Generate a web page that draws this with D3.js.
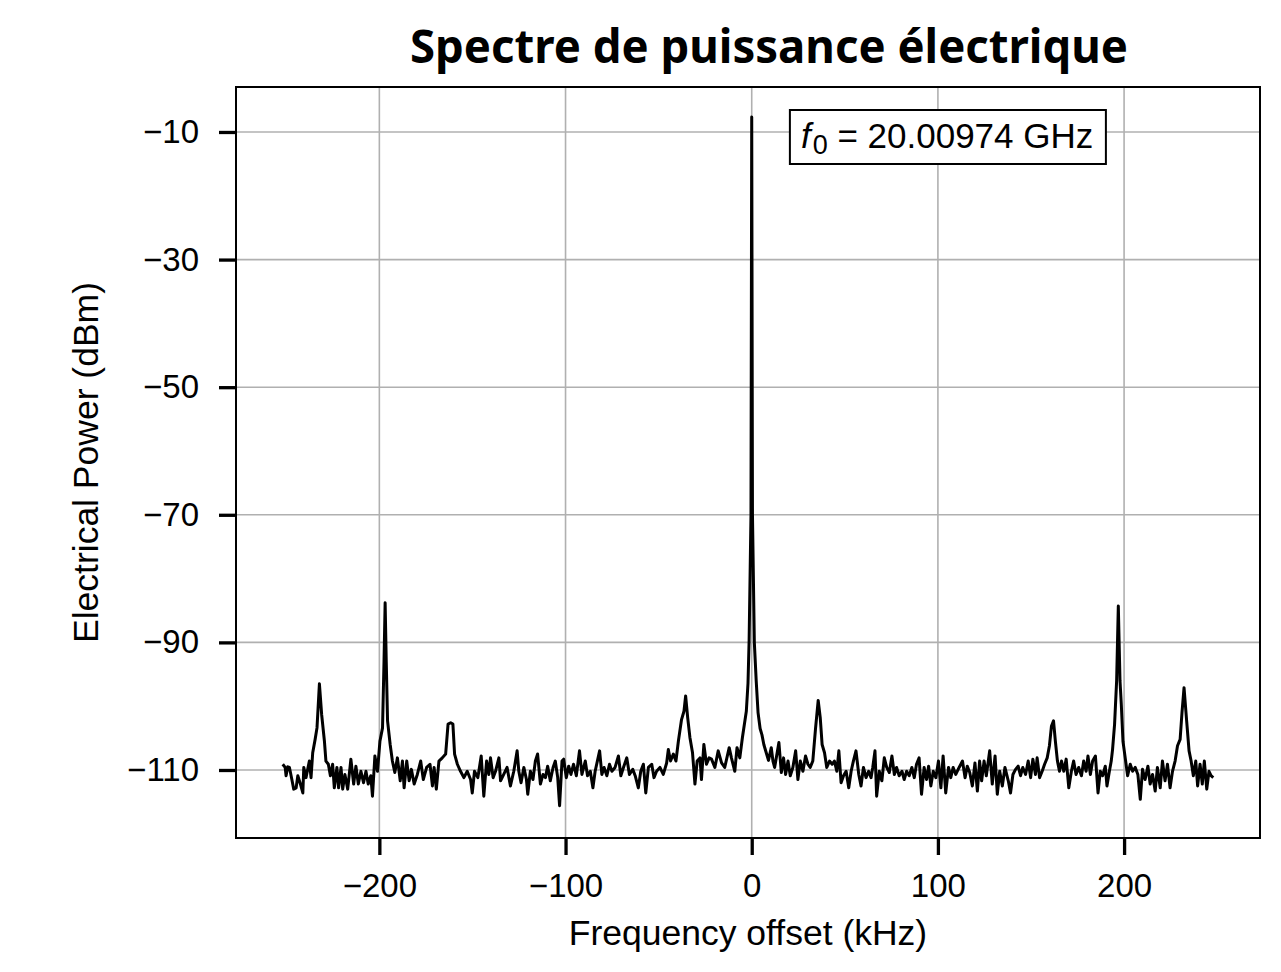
<!DOCTYPE html>
<html>
<head>
<meta charset="utf-8">
<script src="https://cdn.jsdelivr.net/npm/d3@7"></script>
<style>
  body { margin: 0; background: #fff; }
  svg { display: block; }
</style>
</head>
<body>
<script>

// spectrum, [frequency offset kHz, power dBm]
let leftBand = [
  [-251.9,-109.1],[-250.6,-109.6],[-250.1,-110.9],[-249.2,-109.5],[-248.3,-109.6],[-247.0,-111.5],
  [-246.0,-113.0],[-244.7,-112.8],[-243.8,-110.9],[-242.4,-112.2],[-241.1,-113.6],[-240.6,-109.6],
  [-239.4,-111.2],[-237.6,-108.6],[-236.7,-111.2],[-235.8,-107.3],[-234.5,-105.2],[-233.5,-103.4],
  [-232.2,-96.5],[-231.0,-101.3],[-229.5,-105.5],[-228.7,-108.6],[-227.4,-109.1],[-226.3,-110.9],
  [-225.1,-109.1],[-224.2,-112.8],[-222.8,-109.6],[-221.9,-112.8],[-220.6,-109.6],[-219.7,-113.0],
  [-218.5,-110.7],[-217.0,-113.0],[-215.3,-108.3],[-213.8,-112.2],[-212.6,-109.4],[-211.3,-112.2],
  [-209.9,-110.2],[-208.5,-112.0],[-207.2,-110.2],[-206.0,-112.2],[-204.6,-110.9],[-203.7,-114.1],
  [-202.4,-107.8],[-201.0,-110.2],[-199.7,-105.5],[-198.3,-103.4],[-197.5,-93.0],[-196.9,-83.8],
  [-196.3,-93.0],[-195.6,-102.3],[-194.2,-106.0],[-193.0,-108.6],[-191.7,-110.4],[-190.3,-108.1],
  [-188.8,-111.7],[-187.6,-108.6],[-186.7,-112.8],[-185.3,-108.6],[-184.0,-111.7],[-182.8,-109.9],
  [-181.3,-112.2],[-179.6,-110.7],[-177.8,-108.6],[-176.4,-111.5],[-174.6,-109.6],[-172.8,-109.1],
  [-171.5,-112.5],[-170.6,-109.6],[-169.4,-113.0],[-168.0,-108.6],[-166.2,-108.1],[-164.4,-107.5],
  [-163.1,-102.8],[-161.7,-102.6],[-160.5,-102.8],[-159.6,-107.5],[-158.1,-109.1],[-156.4,-110.2],
  [-154.6,-111.2],[-152.8,-110.2],[-151.0,-111.5],[-150.1,-113.6],[-148.9,-110.2],[-147.1,-111.2],
  [-145.3,-107.8],[-143.9,-114.1],[-142.4,-108.6],[-141.2,-110.7],[-140.3,-108.1],[-138.9,-111.2],
  [-137.6,-110.2],[-135.8,-108.1],[-134.9,-111.7],[-133.2,-110.7],[-131.4,-109.6],[-129.6,-112.5],
  [-127.8,-110.2],[-126.0,-107.0],[-125.1,-110.2],[-123.9,-112.0],[-122.4,-109.6],[-121.0,-111.5],
  [-120.3,-113.8],[-118.9,-110.2],[-117.5,-111.5],[-116.2,-108.6],[-115.0,-107.5],[-113.5,-112.2],
  [-112.1,-110.7],[-110.8,-111.2],[-109.6,-109.4],[-108.2,-111.7],[-106.7,-109.6],[-105.5,-108.6],
  [-104.2,-111.2],[-103.2,-115.6],[-101.9,-108.6],[-101.0,-108.3],[-99.6,-111.2],[-98.3,-109.4],
  [-97.1,-110.7],[-95.7,-109.1],[-94.2,-110.9],[-92.5,-107.0],[-91.2,-110.7],[-89.4,-108.6],
  [-88.2,-110.9],[-86.7,-110.2],[-85.3,-112.8],[-84.1,-110.2],[-81.7,-107.0],[-80.5,-110.7],
  [-79.3,-109.6],[-77.8,-110.9],[-76.4,-109.1],[-75.1,-110.2],[-73.4,-109.6],[-71.6,-107.8],
  [-70.3,-110.9],[-68.9,-109.6],[-67.1,-108.1],[-65.7,-110.7],[-63.9,-109.9],[-62.6,-110.9],
  [-60.9,-112.8],[-59.6,-110.2],[-58.2,-109.1],[-56.9,-113.6],[-55.5,-109.6],[-53.7,-109.1],
  [-52.5,-111.2],[-51.1,-110.2],[-49.3,-109.6],[-47.5,-110.7],[-45.7,-108.9],[-44.8,-106.8],
  [-43.6,-108.6],[-42.1,-107.5],[-40.7,-108.6]
];

let centreBand = [
  [-39.4,-105.5],[-37.7,-102.1],[-36.4,-100.8],[-35.5,-98.4],[-34.4,-101.8],[-33.2,-104.9],
  [-31.8,-107.3],[-30.5,-112.2],[-29.3,-108.6],[-27.8,-108.1],[-27.0,-111.5],[-25.7,-106.0],
  [-24.3,-109.1],[-22.9,-108.1],[-21.6,-108.3],[-19.8,-109.6],[-18.0,-107.0],[-16.2,-108.9],
  [-14.5,-109.6],[-12.1,-106.5],[-10.9,-108.1],[-9.1,-110.2],[-7.9,-106.5],[-6.4,-108.1],
  [-5.0,-104.9],[-2.9,-100.8],[-2.0,-96.4],[-1.4,-89.7],[-0.4,-70.0],[0.0,-7.65],
  [0.4,-70.0],[1.4,-90.0],[2.4,-96.0],[3.4,-101.0],[4.5,-103.5],[5.5,-104.5],
  [6.5,-106.0],[8.0,-107.5],[9.0,-108.5],[10.5,-106.5],[11.4,-108.6],[12.3,-109.6],
  [13.2,-108.1],[14.6,-105.7],[15.9,-110.4],[17.1,-108.1],[18.2,-110.7],[19.5,-108.6],
  [20.7,-110.9],[22.1,-109.6],[23.6,-107.0],[24.8,-111.5],[26.1,-108.6],[27.5,-110.2],
  [28.9,-107.8],[30.2,-109.1],[31.4,-109.6],[32.8,-108.6],[34.3,-103.4],[35.7,-99.1],
  [36.8,-101.8],[37.8,-106.0],[39.1,-107.3],[40.3,-109.6]
];

let rightBand = [
  [41.8,-108.6],[43.2,-109.1],[44.4,-108.6],[45.7,-110.2],[46.8,-107.0],[48.0,-112.0],
  [49.3,-110.9],[50.7,-110.2],[52.1,-112.8],[53.4,-110.2],[54.6,-108.6],[56.0,-107.0],
  [57.5,-110.7],[58.7,-112.5],[60.0,-109.6],[61.4,-111.2],[62.8,-110.2],[64.1,-111.2],
  [65.0,-109.6],[66.2,-107.0],[67.1,-114.1],[68.5,-110.2],[69.9,-111.7],[71.2,-108.1],
  [72.5,-109.6],[73.9,-110.4],[75.3,-107.8],[76.6,-110.7],[77.8,-109.6],[79.2,-110.9],
  [80.7,-110.2],[81.9,-111.5],[83.2,-110.2],[84.6,-110.9],[86.0,-109.6],[87.3,-111.2],
  [88.5,-109.1],[89.9,-108.1],[91.2,-113.8],[92.6,-109.6],[93.9,-111.5],[95.0,-109.4],
  [96.2,-112.5],[97.5,-110.2],[98.9,-111.2],[100.3,-108.6],[101.6,-112.8],[102.8,-107.8],
  [104.2,-113.6],[105.7,-109.6],[106.9,-111.2],[108.2,-109.6],[109.6,-110.7],[111.4,-109.6],
  [113.2,-108.6],[114.6,-111.2],[115.8,-109.4],[117.1,-110.4],[118.5,-112.5],[119.9,-108.9],
  [121.2,-113.3],[122.4,-108.6],[123.5,-111.7],[124.8,-108.6],[126.0,-110.9],[127.8,-107.0],
  [129.2,-112.2],[130.7,-107.8],[131.9,-113.8],[133.2,-110.2],[134.6,-112.5],[136.0,-109.6],
  [137.8,-111.7],[139.0,-113.6],[140.3,-110.7],[141.7,-109.9],[143.1,-109.4],[144.4,-110.9],
  [145.6,-109.6],[147.1,-110.7],[148.5,-108.6],[149.8,-111.2],[151.0,-108.3],[152.4,-110.7],
  [153.3,-108.1],[154.6,-111.2],[156.0,-110.2],[157.3,-109.1],[158.7,-108.1],[159.9,-106.2],
  [161.0,-103.1],[162.1,-102.3],[163.1,-105.5],[164.2,-108.6],[165.3,-110.2],[166.4,-108.6],
  [167.6,-110.2],[168.9,-108.3],[170.3,-112.8],[171.7,-110.2],[172.9,-108.6],[174.2,-110.7],
  [175.6,-109.6],[177.1,-110.9],[178.3,-108.6],[179.6,-110.2],[180.6,-107.8],[181.9,-110.7],
  [183.1,-108.6],[184.6,-107.8],[186.0,-113.6],[187.2,-110.2],[188.5,-110.9],[189.9,-109.4],
  [190.8,-112.5],[192.1,-110.2],[193.1,-108.6],[193.8,-106.8],[194.9,-102.8],[196.0,-96.0],
  [196.9,-84.3],[197.8,-96.0],[198.5,-99.7],[199.4,-105.5],[200.6,-108.1],[201.9,-110.9],
  [203.3,-109.1],[204.6,-110.2],[206.0,-109.6],[207.4,-110.7],[208.7,-114.6],[209.9,-109.9],
  [211.3,-111.5],[212.8,-109.4],[214.0,-112.2],[215.3,-110.7],[216.7,-113.3],[217.9,-109.6],
  [219.4,-112.8],[220.6,-108.6],[222.0,-111.7],[223.3,-109.1],[224.7,-112.8],[226.0,-110.2],
  [227.4,-108.6],[228.7,-106.2],[230.1,-105.2],[231.1,-101.0],[232.2,-97.1],[233.6,-102.3],
  [234.9,-107.0],[236.0,-108.6],[237.2,-110.9],[238.5,-108.6],[239.5,-112.5],[240.8,-109.1],
  [242.0,-112.2],[243.1,-108.6],[244.4,-113.0],[245.6,-110.2],[246.7,-110.9],[247.9,-111.2]
];

let xTicks = [-200, -100, 0, 100, 200];
let yTicks = [-110, -90, -70, -50, -30, -10];
let xDomain = [-277, 273];
let yDomain = [-120.66, -2.95];

let titleText = 'Spectre de puissance électrique';
let xLabel = 'Frequency offset (kHz)';
let yLabel = 'Electrical Power (dBm)';
let carrierText = ' = 20.00974 GHz';

function go() {

  let totalWidth  = 1281;
  let totalHeight = 972;
  let margin      = { top: 87, right: 21, bottom: 134, left: 236 };
  let width       = totalWidth - (margin.left + margin.right);
  let height      = totalHeight - (margin.top + margin.bottom);
  let font        = 'Helvetica, Arial, "Liberation Sans", sans-serif';

  let spectrum = leftBand.concat(centreBand, rightBand);

  let xScale = d3.scaleLinear().domain(xDomain).range([0, width]);
  let yScale = d3.scaleLinear().domain(yDomain).range([height, 0]);

  let svg = d3.select('body').append('svg')
      .attr('width', totalWidth)
      .attr('height', totalHeight);

  let plot = svg.append('g')
      .attr('transform', 'translate(' + margin.left + ',' + margin.top + ')');

  // grid
  plot.append('g').selectAll('line.vgrid').data(xTicks).enter()
    .append('line')
    .attr('x1', function (d) { return xScale(d); })
    .attr('x2', function (d) { return xScale(d); })
    .attr('y1', 0).attr('y2', height)
    .attr('stroke', '#b0b0b0').attr('stroke-width', 1.6);

  plot.append('g').selectAll('line.hgrid').data(yTicks).enter()
    .append('line')
    .attr('y1', function (d) { return yScale(d); })
    .attr('y2', function (d) { return yScale(d); })
    .attr('x1', 0).attr('x2', width)
    .attr('stroke', '#b0b0b0').attr('stroke-width', 1.6);

  // trace
  let line = d3.line()
      .x(function (d) { return xScale(d[0]); })
      .y(function (d) { return yScale(d[1]); });

  plot.append('path')
    .datum(spectrum)
    .attr('d', line)
    .attr('fill', 'none')
    .attr('stroke', '#000')
    .attr('stroke-width', 3)
    .attr('stroke-linejoin', 'round');

  // axes
  let xAxis = d3.axisBottom(xScale).tickValues(xTicks).tickSize(17).tickPadding(19);
  let yAxis = d3.axisLeft(yScale).tickValues(yTicks).tickSize(17).tickPadding(20);

  let gx = plot.append('g')
      .attr('transform', 'translate(0,' + height + ')')
      .call(xAxis);
  let gy = plot.append('g').call(yAxis);

  [gx, gy].forEach(function (g) {
    g.select('.domain').remove();
    g.selectAll('.tick line').attr('stroke', '#000').attr('stroke-width', 3.3);
    g.selectAll('.tick text')
      .attr('fill', '#000')
      .style('font-family', font)
      .style('font-size', '33px');
  });

  // frame
  plot.append('rect')
    .attr('x', 0).attr('y', 0)
    .attr('width', width).attr('height', height)
    .attr('fill', 'none')
    .attr('stroke', '#000')
    .attr('stroke-width', 2);

  // annotation box
  let note = plot.append('g').attr('transform', 'translate(' + (xScale(20.5)) + ',' + 23 + ')');
  note.append('rect')
    .attr('x', 0).attr('y', 0)
    .attr('width', 316).attr('height', 54)
    .attr('fill', '#fff')
    .attr('stroke', '#000')
    .attr('stroke-width', 2);

  let noteText = note.append('text')
    .attr('x', 11).attr('y', 38)
    .style('font-family', font)
    .style('font-size', '35px')
    .attr('fill', '#000');
  noteText.append('tspan').style('font-style', 'italic').text('f');
  noteText.append('tspan').attr('dy', 6).attr('dx', 2).style('font-size', '27px').text('0');
  noteText.append('tspan').attr('dy', -6).text(carrierText);

  // labels
  svg.append('text')
    .attr('x', margin.left + width / 2)
    .attr('y', 945)
    .attr('text-anchor', 'middle')
    .style('font-family', font)
    .style('font-size', '35.5px')
    .text(xLabel);

  svg.append('text')
    .attr('transform', 'translate(98,' + (margin.top + height / 2) + ') rotate(-90)')
    .attr('text-anchor', 'middle')
    .style('font-family', font)
    .style('font-size', '35.5px')
    .text(yLabel);

  svg.append('text')
    .attr('x', 769)
    .attr('y', 63)
    .attr('text-anchor', 'middle')
    .attr('textLength', 718)
    .attr('lengthAdjust', 'spacingAndGlyphs')
    .style('font-family', '"Noto Sans", "Open Sans", sans-serif')
    .style('font-weight', 'bold')
    .style('font-size', '46px')
    .text(titleText);
}

document.addEventListener('DOMContentLoaded', go);

</script>
</body>
</html>
